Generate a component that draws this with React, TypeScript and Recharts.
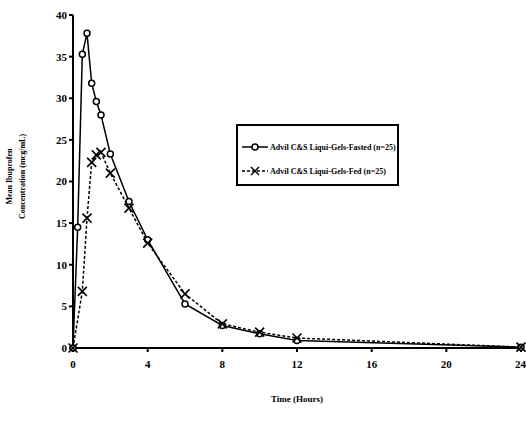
import React from 'react';
import { LineChart, Line, XAxis, YAxis, Legend, Label } from 'recharts';

// sampling times (hours) and mean concentrations (mcg/mL)
const fastedTimes = [0, 0.25, 0.5, 0.75, 1, 1.25, 1.5, 2, 3, 4, 6, 8, 10, 12, 24];
const fastedConc = [0, 14.5, 35.3, 37.8, 31.8, 29.6, 28, 23.3, 17.6, 13, 5.3, 2.7, 1.7, 0.9, 0.1];

const fedTimes = [0, 0.5, 0.75, 1, 1.25, 1.5, 2, 3, 4, 6, 8, 10, 12, 24];
const fedConc = [0, 6.8, 15.6, 22.3, 23.2, 23.5, 21, 16.8, 12.6, 6.5, 2.9, 1.9, 1.2, 0.1];

const xTicks = [0, 4, 8, 12, 16, 20, 24];
const yTicks = [0, 5, 10, 15, 20, 25, 30, 35, 40];

const fastedName = 'Advil C&S Liqui-Gels-Fasted (n=25)';
const fedName = 'Advil C&S Liqui-Gels-Fed (n=25)';

const fastedData = fastedTimes.map((t, i) => ({ t, v: fastedConc[i] }));
const fedData = fedTimes.map((t, i) => ({ t, v: fedConc[i] }));

const FONT = '"Liberation Serif", "DejaVu Serif", serif';

const CircleDot = (props: any) => {
  const { cx, cy, key } = props;
  if (cx == null || cy == null) return <g key={key} />;
  return <circle key={key} cx={cx} cy={cy} r={3} fill="#fff" stroke="#000" strokeWidth={1.5} />;
};

const CrossDot = (props: any) => {
  const { cx, cy, key } = props;
  if (cx == null || cy == null) return <g key={key} />;
  const s = 4.5;
  return (
    <g key={key} stroke="#000" strokeWidth={1.6}>
      <line x1={cx - s} y1={cy - s} x2={cx + s} y2={cy + s} />
      <line x1={cx - s} y1={cy + s} x2={cx + s} y2={cy - s} />
    </g>
  );
};

const LegendBox = () => (
  <div
    style={{
      border: '2px solid #000',
      width: 163,
      height: 62,
      boxSizing: 'border-box',
      fontFamily: FONT,
      fontWeight: 700,
      fontSize: 8,
      color: '#000',
      padding: '15px 0 0 4px',
    }}
  >
    <div style={{ display: 'flex', alignItems: 'center', height: 12, marginBottom: 12 }}>
      <svg width={26} height={10}>
        <line x1={0} y1={5} x2={26} y2={5} stroke="#000" strokeWidth={1.5} />
        <circle cx={13} cy={5} r={3} fill="#fff" stroke="#000" strokeWidth={1.5} />
      </svg>
      <span style={{ marginLeft: 2, whiteSpace: 'nowrap' }}>{fastedName}</span>
    </div>
    <div style={{ display: 'flex', alignItems: 'center', height: 12 }}>
      <svg width={26} height={10}>
        <line x1={0} y1={5} x2={26} y2={5} stroke="#000" strokeWidth={1.5} strokeDasharray="3 2" />
        <line x1={9} y1={1} x2={17} y2={9} stroke="#000" strokeWidth={1.5} />
        <line x1={9} y1={9} x2={17} y2={1} stroke="#000" strokeWidth={1.5} />
      </svg>
      <span style={{ marginLeft: 2, whiteSpace: 'nowrap' }}>{fedName}</span>
    </div>
  </div>
);

const YTitle = (props: any) => {
  const vb = props.viewBox || {};
  const cy = (vb.y ?? 15) + (vb.height ?? 333) / 2 - 5;
  const style = { fontFamily: FONT, fontWeight: 700, fontSize: 8, fill: '#000' };
  return (
    <g>
      <text x={12} y={cy} transform={`rotate(-90 12 ${cy})`} textAnchor="middle" style={style}>
        Mean Ibuprofen
      </text>
      <text x={25} y={cy} transform={`rotate(-90 25 ${cy})`} textAnchor="middle" style={style}>
        Concentration (mcg/mL)
      </text>
    </g>
  );
};

const tickStyle = { fontFamily: FONT, fontWeight: 700, fontSize: 11, fill: '#000' };

export default function App() {
  return (
    <div style={{ position: 'fixed', left: 0, top: 0, width: 526, height: 431, background: '#fff' }}>
      <LineChart width={526} height={431} margin={{ top: 15, right: 5, bottom: 53, left: 33 }}>
        <XAxis
          dataKey="t"
          type="number"
          domain={[0, 24]}
          ticks={xTicks}
          allowDuplicatedCategory={false}
          stroke="#000"
          strokeWidth={2}
          tickSize={4}
          tick={tickStyle}
          tickMargin={8}
          height={30}
        >
          <Label
            value="Time (Hours)"
            position="insideBottom"
            offset={-24}
            style={{ fontFamily: FONT, fontWeight: 700, fontSize: 9, fill: '#000' }}
          />
        </XAxis>
        <YAxis
          type="number"
          domain={[0, 40]}
          ticks={yTicks}
          stroke="#000"
          strokeWidth={2}
          tickSize={4}
          tick={tickStyle}
          width={40}
        >
          <Label content={<YTitle />} />
        </YAxis>
        <Legend
          content={<LegendBox />}
          layout="vertical"
          align="center"
          verticalAlign="middle"
          wrapperStyle={{ left: 236, top: 124, width: 163, height: 62 }}
        />
        <Line
          data={fastedData}
          dataKey="v"
          name={fastedName}
          type="linear"
          stroke="#000"
          strokeWidth={1.5}
          dot={CircleDot}
          isAnimationActive={false}
        />
        <Line
          data={fedData}
          dataKey="v"
          name={fedName}
          type="linear"
          stroke="#000"
          strokeWidth={1.5}
          strokeDasharray="3 2"
          dot={CrossDot}
          isAnimationActive={false}
        />
      </LineChart>
    </div>
  );
}
